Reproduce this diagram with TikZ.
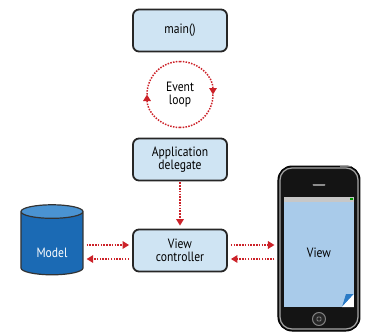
\documentclass[tikz,border=0pt]{standalone}
\usepackage{fontspec}
\setmainfont[FakeStretch=0.86]{PT Sans}
\usetikzlibrary{arrows.meta,shapes.geometric,positioning}
\definecolor{boxfill}{HTML}{CFE4F3}
\definecolor{flowred}{HTML}{CC2229}
\definecolor{modelbody}{HTML}{1B6AB4}
\definecolor{modeltop}{HTML}{4A93D2}
\definecolor{screenblue}{HTML}{A9CBEA}
\definecolor{curlblue}{HTML}{2B7BC6}

\begin{document}
\begin{tikzpicture}[x=1pt,y=1pt]
  \tikzset{
    node distance=64pt,
    label font/.style={font=\fontsize{13.5}{13.5}\selectfont},
    box/.style={rectangle,rounded corners=6pt,draw=black!85,line width=1.8pt,fill=boxfill,
      minimum width=94pt,minimum height=42pt,align=center,label font},
    flow/.style={flowred,line width=1.5pt,dash pattern=on 1.5pt off 1.3pt,
      -{Triangle[length=6.5pt,width=7.5pt]}},
    dots/.style={flowred,line width=1.5pt,dash pattern=on 1.5pt off 1.3pt},
    model/.style={cylinder,shape border rotate=90,aspect=0.36,draw=black!80,line width=1.2pt,
      cylinder uses custom fill,cylinder body fill=modelbody,cylinder end fill=modeltop,
      minimum width=62pt,minimum height=70pt,text=white,label font,
      text height=24pt,text depth=0pt},
    phone/.style={rectangle,rounded corners=14pt,fill=black!92,draw=black,line width=1pt,
      minimum width=82pt,minimum height=165pt}
  }
  \useasboundingbox (0,0) rectangle (368,-333);

  \node[box] (main) at (180,-30.5) {main()};
  \node[below of=main,align=center,label font] (loop) {Event\\loop};
  \node[box,below of=loop,node distance=65pt] (app) {Application\\delegate};
  \node[box,below of=app,node distance=91pt] (vc) {View\\controller};
  \node[model] (model) at (52,-245) {Model};

  % phone
  \node[phone] (phone) at (319,-248.5) {};
  \fill[black!55] (340,-165.5) rectangle (352,-167);
  \draw[black!35,line width=1.2pt,rounded corners=12pt]
    ([shift={(2.5pt,-2.5pt)}]phone.north west) rectangle ([shift={(-2.5pt,2.5pt)}]phone.south east);
  \draw[black!45,line width=2pt,line cap=round] (313.5,-185) -- (324.5,-185);
  \fill[screenblue] (284,-197) rectangle (354,-307);
  \fill[black!22] (284,-197) rectangle (354,-201.5);
  \fill[green!60!black] (350,-198.2) rectangle (353,-200.3);
  \fill[curlblue] (342,-307) -- (346,-294) -- (354,-294) -- cycle;
  \fill[white] (342,-307) -- (354,-294) -- (354,-307) -- cycle;
  \draw[black!50,line width=1pt,fill=black!85] (319,-319) circle[radius=6.5pt];
  \draw[black!50,line width=0.8pt,rounded corners=1pt] (317,-317) rectangle (321,-321);
  \node[label font] (view) at (319,-253) {View};

  % event loop
  \draw[flow] ([shift={(270:33pt)}]loop.center) arc[start angle=270,end angle=180,radius=33pt];
  \draw[dots] ([shift={(180:33pt)}]loop.center) arc[start angle=180,end angle=90,radius=33pt];
  \draw[flow] ([shift={(90:33pt)}]loop.center) arc[start angle=90,end angle=0,radius=33pt];
  \draw[dots] ([shift={(0:33pt)}]loop.center) arc[start angle=0,end angle=-90,radius=33pt];

  \draw[flow,shorten <=1pt,shorten >=3pt] (app) -- (vc);
  \draw[flow,shorten <=3pt,shorten >=3pt] ([yshift=5.5pt]vc.west -| model.east) -- ([yshift=5.5pt]vc.west);
  \draw[flow,shorten <=3pt,shorten >=3pt] ([yshift=-8.5pt]vc.west) -- ([yshift=-8.5pt]vc.west -| model.east);
  \draw[flow,shorten <=3pt,shorten >=3pt] ([yshift=5.5pt]vc.east) -- ([yshift=5.5pt]vc.east -| phone.west);
  \draw[flow,shorten <=3pt,shorten >=3pt] ([yshift=-8.5pt]vc.east -| phone.west) -- ([yshift=-8.5pt]vc.east);
\end{tikzpicture}
\end{document}
